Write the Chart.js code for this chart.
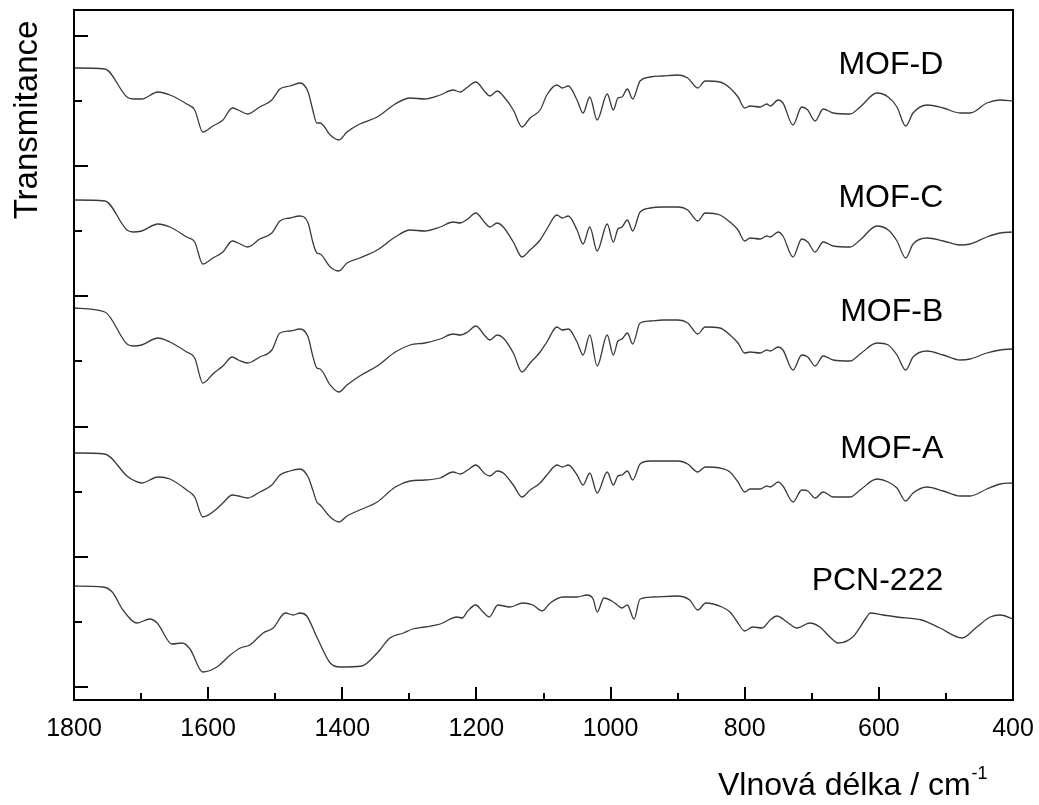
<!DOCTYPE html>
<html>
<head>
<meta charset="utf-8">
<script src="https://cdn.jsdelivr.net/npm/chart.js@4.4.1/dist/chart.umd.min.js"></script>
<style>
    html, body { margin: 0; padding: 0; background: #fff; }
    #container { width: 1039px; height: 805px; position: relative; }
</style>
</head>
<body>
<div id="container">
    <canvas id="ftirChart"></canvas>
</div>

<script>
    // wavenumber grid (cm-1) shared by the MOF spectra
    var wavenumbers = [
        1800, 1754, 1721, 1712, 1699, 1675, 1657, 1632, 1620, 1608,
        1593, 1578, 1564, 1555, 1541, 1523, 1505, 1493, 1478, 1463,
        1451, 1444, 1438, 1433, 1418, 1405, 1393, 1374, 1348, 1321,
        1299, 1277, 1254, 1235, 1224, 1213, 1201, 1187, 1180, 1169,
        1160, 1145, 1132, 1120, 1105, 1095, 1080, 1072, 1063, 1050,
        1041, 1031, 1020, 1005, 996, 989, 983, 975, 967, 956,
        941, 922, 899, 885, 870, 859, 837, 822, 810, 800,
        792, 777, 767, 762, 750, 743, 728, 715, 706, 695,
        683, 668, 643, 628, 603, 586, 573, 560, 549, 528,
        504, 479, 464, 439, 419, 400
    ];

    // stacked transmittance (a.u., offset per sample)
    var mofD = [
        63.2, 63.1, 60.3, 60.1, 60.1, 60.8, 60.5, 59.6, 59.0, 56.8,
        57.4, 58.0, 59.2, 59.0, 58.6, 59.3, 60.0, 61.1, 61.4, 61.7,
        60.8, 59.0, 57.7, 57.7, 56.5, 56.0, 56.8, 57.6, 58.3, 59.6,
        60.2, 60.1, 60.5, 61.0, 60.8, 61.3, 61.8, 60.8, 60.4, 60.9,
        60.4, 59.0, 57.3, 58.2, 59.0, 60.5, 61.5, 61.2, 61.4, 60.0,
        58.7, 60.3, 58.0, 60.6, 59.0, 60.2, 60.3, 61.1, 60.1, 61.9,
        62.3, 62.4, 62.5, 62.2, 61.2, 61.9, 61.8, 61.2, 60.3, 59.2,
        59.4, 59.3, 59.6, 59.4, 60.0, 59.7, 57.5, 59.3, 59.0, 57.9,
        59.1, 58.7, 58.6, 59.3, 60.7, 60.3, 59.3, 57.4, 58.7, 59.5,
        59.2, 58.7, 58.7, 59.7, 60.0, 59.9
    ];

    var mofC = [
        50.0, 49.9, 47.0, 46.8, 46.9, 47.6, 47.3, 46.3, 45.8, 43.6,
        44.2, 44.8, 45.9, 45.7, 45.3, 46.1, 46.7, 47.9, 48.2, 48.4,
        47.7, 45.8, 44.7, 44.6, 43.3, 42.9, 43.7, 44.2, 45.0, 46.3,
        47.0, 46.9, 47.3, 47.8, 47.7, 48.1, 48.7, 47.7, 47.3, 47.7,
        47.3, 45.8, 44.3, 45.0, 46.0, 47.1, 48.5, 48.2, 48.4, 47.0,
        45.6, 47.3, 44.9, 47.6, 45.8, 47.1, 47.3, 48.0, 46.9, 48.8,
        49.2, 49.3, 49.3, 49.0, 47.9, 48.7, 48.5, 47.8, 47.0, 45.9,
        46.2, 46.1, 46.4, 46.3, 46.8, 46.4, 44.3, 46.1, 45.8, 44.8,
        45.8, 45.4, 45.3, 46.0, 47.4, 47.0, 45.9, 44.2, 45.6, 46.2,
        45.9, 45.5, 45.6, 46.3, 46.7, 46.8
    ];

    var mofB = [
        39.2, 38.8, 35.6, 35.4, 35.5, 36.2, 35.8, 34.8, 34.2, 31.7,
        32.6, 33.4, 34.3, 34.0, 33.7, 34.3, 35.0, 36.7, 36.9, 37.1,
        36.3, 34.4, 33.2, 33.1, 31.5, 30.8, 31.5, 32.4, 33.4, 34.8,
        35.5, 35.7, 36.1, 36.6, 36.5, 36.8, 37.4, 36.4, 36.0, 36.5,
        36.2, 34.7, 32.8, 33.7, 34.8, 35.8, 37.3, 37.0, 37.1, 35.8,
        34.5, 36.5, 33.4, 36.5, 34.5, 35.9, 36.1, 36.7, 35.6, 37.7,
        37.9, 38.0, 38.0, 37.7, 36.6, 37.3, 37.2, 36.5, 35.7, 34.7,
        34.8, 34.7, 35.0, 34.9, 35.3, 35.0, 33.0, 34.5, 34.3, 33.4,
        34.4, 34.0, 33.9, 34.6, 35.7, 35.5, 34.5, 33.0, 34.3, 34.9,
        34.5, 34.0, 34.1, 34.7, 35.0, 35.1
    ];

    var mofA = [
        24.7, 24.6, 22.4, 22.0, 21.7, 22.3, 22.1, 21.0, 20.3, 18.3,
        18.8, 19.7, 20.5, 20.4, 20.2, 20.8, 21.5, 22.5, 22.9, 23.1,
        22.3, 21.0, 19.8, 19.5, 18.3, 17.8, 18.4, 19.0, 19.8, 21.3,
        21.9, 22.0, 22.2, 22.8, 22.6, 23.0, 23.5, 22.6, 22.4, 22.9,
        22.7, 21.5, 20.3, 21.0, 21.7, 22.5, 23.5, 23.3, 23.5, 22.5,
        21.5, 22.7, 20.7, 22.8, 21.5, 22.4, 22.5, 22.9, 22.0, 23.6,
        23.9, 23.9, 23.9, 23.6, 22.8, 23.3, 23.2, 22.8, 21.8, 20.8,
        21.1, 21.1, 21.4, 21.3, 21.8, 21.4, 19.8, 21.0, 20.9, 20.2,
        20.8, 20.3, 20.3, 21.0, 22.1, 21.8, 21.2, 19.9, 20.7, 21.3,
        20.9, 20.4, 20.4, 21.1, 21.6, 21.7
    ];

    // PCN-222 was read on its own grid
    var pcnWavenumbers = [
        1800, 1757, 1743, 1727, 1706, 1687, 1676, 1654, 1639, 1627,
        1608, 1587, 1567, 1552, 1538, 1518, 1503, 1485, 1473, 1463,
        1453, 1438, 1418, 1403, 1371, 1348, 1329, 1309, 1295, 1277,
        1254, 1229, 1221, 1213, 1201, 1190, 1181, 1168, 1150, 1131,
        1116, 1102, 1090, 1071, 1050, 1035, 1026, 1020, 1010, 998,
        990, 983, 975, 965, 956, 937, 901, 882, 870, 858,
        834, 822, 811, 800, 788, 774, 762, 752, 737, 722,
        703, 688, 673, 661, 639, 618, 613, 594, 573, 536,
        509, 476, 454, 434, 419, 400
    ];

    var pcn222 = [
        11.4, 11.3, 10.8, 9.0, 7.7, 8.1, 7.7, 5.6, 5.7, 5.1,
        2.8, 3.3, 4.5, 5.2, 5.5, 6.7, 7.2, 8.7, 8.5, 8.7,
        8.4, 6.3, 3.7, 3.3, 3.4, 4.7, 6.2, 6.7, 7.1, 7.3,
        7.6, 8.3, 8.2, 8.9, 9.5, 8.8, 8.3, 9.5, 9.3, 9.7,
        9.5, 8.9, 9.7, 10.3, 10.3, 10.5, 10.1, 8.8, 10.2, 9.9,
        9.5, 9.2, 9.5, 8.1, 10.1, 10.3, 10.4, 10.0, 9.0, 9.7,
        9.3, 8.8, 7.8, 6.9, 7.3, 7.2, 8.0, 8.4, 7.8, 7.2,
        7.7, 7.3, 6.3, 5.7, 6.3, 8.3, 8.7, 8.5, 8.3, 8.0,
        7.2, 6.2, 7.3, 8.3, 8.5, 8.1
    ];

    var seriesNames = ['PCN-222', 'MOF-A', 'MOF-B', 'MOF-C', 'MOF-D'];

    // axis ticks
    var xMajorTicks = [1800, 1600, 1400, 1200, 1000, 800, 600, 400];
    var xMinorTicks = [1700, 1500, 1300, 1100, 900, 700, 500];
    var yMajorTicks = [1.3, 14.3, 27.3, 40.35, 53.4, 66.4];
    var yMinorTicks = [7.8, 20.8, 33.85, 46.9, 59.9];

    function toPoints(xs, ys) {
        return ys.map(function (y, i) { return { x: xs[i], y: y }; });
    }

    var FONT = '"Liberation Sans", Arial, sans-serif';

    // where each sample name sits (right edge, baseline) in data units
    var nameAnchors = [
        { name: 'PCN-222', wn: 504, y: 11.0 },
        { name: 'MOF-A', wn: 504, y: 24.2 },
        { name: 'MOF-B', wn: 504, y: 37.9 },
        { name: 'MOF-C', wn: 504, y: 49.3 },
        { name: 'MOF-D', wn: 504, y: 62.6 }
    ];

    // frame, inward ticks, tick labels and titles
    var frameAndLabels = {
        id: 'frameAndLabels',
        afterDraw: function (chart) {
            var ctx = chart.ctx;
            var area = chart.chartArea;
            var xs = chart.scales.x, ys = chart.scales.y;
            ctx.save();
            ctx.strokeStyle = '#000';
            ctx.lineWidth = 2;
            ctx.strokeRect(area.left, area.top, area.right - area.left, area.bottom - area.top);

            ctx.beginPath();
            xMajorTicks.forEach(function (v) {
                var px = Math.round(xs.getPixelForValue(v));
                ctx.moveTo(px, area.bottom); ctx.lineTo(px, area.bottom - 13);
            });
            xMinorTicks.forEach(function (v) {
                var px = Math.round(xs.getPixelForValue(v));
                ctx.moveTo(px, area.bottom); ctx.lineTo(px, area.bottom - 7);
            });
            yMajorTicks.forEach(function (v) {
                var py = Math.round(ys.getPixelForValue(v));
                ctx.moveTo(area.left, py); ctx.lineTo(area.left + 14, py);
            });
            yMinorTicks.forEach(function (v) {
                var py = Math.round(ys.getPixelForValue(v));
                ctx.moveTo(area.left, py); ctx.lineTo(area.left + 8, py);
            });
            ctx.stroke();

            ctx.fillStyle = '#000';
            ctx.font = '25px ' + FONT;
            ctx.textAlign = 'center';
            ctx.textBaseline = 'alphabetic';
            xMajorTicks.forEach(function (v) {
                ctx.fillText(String(v), xs.getPixelForValue(v), area.bottom + 36);
            });

            // x title with superscript
            ctx.textAlign = 'left';
            ctx.font = '32px ' + FONT;
            var title = 'Vlnová délka / cm';
            var tx = 718;
            ctx.fillText(title, tx, area.bottom + 95);
            var w = ctx.measureText(title).width;
            ctx.font = '18px ' + FONT;
            ctx.fillText('-1', tx + w + 1, area.bottom + 79);

            // y title
            ctx.save();
            ctx.translate(37, 120);
            ctx.rotate(-Math.PI / 2);
            ctx.font = '33px ' + FONT;
            ctx.textAlign = 'center';
            ctx.fillText('Transmitance', 0, 0);
            ctx.restore();

            // sample names
            ctx.font = '32px ' + FONT;
            ctx.textAlign = 'right';
            nameAnchors.forEach(function (a) {
                ctx.fillText(a.name, xs.getPixelForValue(a.wn), ys.getPixelForValue(a.y));
            });
            ctx.restore();
        }
    };

    var seriesData = [
        toPoints(pcnWavenumbers, pcn222),
        toPoints(wavenumbers, mofA),
        toPoints(wavenumbers, mofB),
        toPoints(wavenumbers, mofC),
        toPoints(wavenumbers, mofD)
    ];

    var ctxL = document.getElementById('ftirChart').getContext('2d');
    var ftirChart = new Chart(ctxL, {
        type: 'line',
        data: {
            datasets: seriesData.map(function (pts, i) {
                return {
                    label: seriesNames[i],
                    data: pts,
                    borderColor: '#3a3a3a',
                    borderWidth: 1.3,
                    pointRadius: 0,
                    fill: false,
                    cubicInterpolationMode: 'monotone'
                };
            })
        },
        options: {
            responsive: true,
            maintainAspectRatio: false,
            animation: false,
            layout: { padding: { left: 74, right: 26, top: 10, bottom: 105 } },
            plugins: { legend: { display: false }, tooltip: { enabled: false } },
            scales: {
                x: { type: 'linear', reverse: true, min: 400, max: 1800, display: false },
                y: { min: 0, max: 69, display: false }
            }
        },
        plugins: [frameAndLabels]
    });
</script>
</body>
</html>
